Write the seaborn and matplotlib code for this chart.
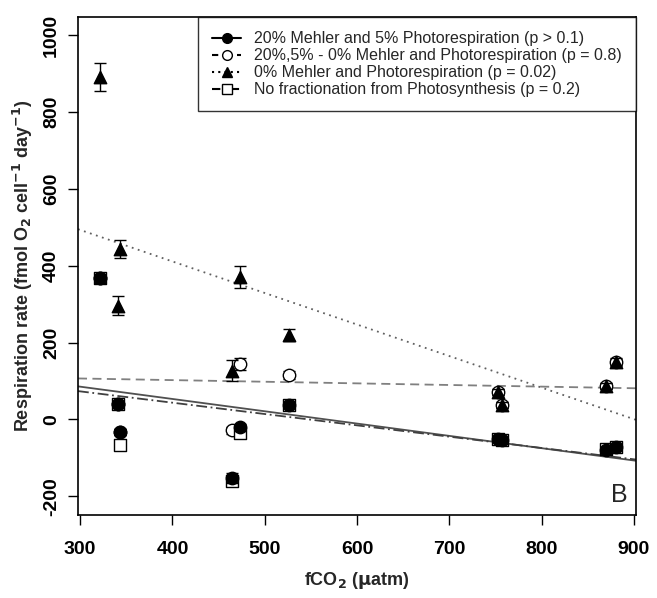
import numpy as np
import pandas as pd
import matplotlib
matplotlib.use("Agg")
import matplotlib.pyplot as plt
import seaborn as sns
from matplotlib.lines import Line2D

# ---- data ----
co2 = [322, 341, 343, 464, 473, 526, 753, 757, 870, 881]
mehler20 = [367, 39, -33, -153, -21, 37, -52, -55, -80, -72]
mehler20_err = [12, 10, 8, 14, 10, 8, 8, 8, 8, 8]
mixed = [367, 39, -33, -29, 144, 116, 72, 37, 87, 149]
mixed_err = [12, 10, 8, 10, 15, 10, 8, 8, 8, 8]
zero = [891, 296, 443, 127, 370, 220, 72, 37, 87, 149]
zero_err = [36, 25, 23, 27, 29, 16, 8, 8, 8, 10]
nofrac = [367, 39, -68, -160, -36, 37, -50, -55, -78, -72]
nofrac_err = [12, 10, 8, 12, 10, 8, 8, 8, 8, 8]

labels = ["20% Mehler and 5% Photorespiration (p > 0.1)",
          "20%,5% - 0% Mehler and Photorespiration (p = 0.8)",
          "0% Mehler and Photorespiration (p = 0.02)",
          "No fractionation from Photosynthesis (p = 0.2)"]
xticks = [300, 400, 500, 600, 700, 800, 900]
yticks = [-200, 0, 200, 400, 600, 800, 1000]

sns.set_style("ticks")
plt.rcParams['font.family'] = ['Liberation Sans', 'DejaVu Sans']

fig = plt.figure(figsize=(6.57, 5.98), dpi=100)
ax = fig.add_axes([0.1187, 0.1395, 0.968 - 0.1187, 0.9716 - 0.1395])
ax.set_xlim(297.6, 902.4)
ax.set_ylim(-248, 1048)

mk_filled = dict(marker='o', facecolor='black', edgecolor='black')
mk_open = dict(marker='o', facecolor='white', edgecolor='black')
mk_tri = dict(marker='^', facecolor='black', edgecolor='black')
mk_sq = dict(marker='s', facecolor='white', edgecolor='black')

# regression lines
lines = [
    (mehler20, '-', '#505050'),
    (mixed, (0, (5, 3)), '#808080'),
    (zero, (0, (1, 2.5)), '#606060'),
    (nofrac, (0, (6, 2, 1, 2)), '#404040'),
]
for vals, ls, lc in lines:
    df = pd.DataFrame({'x': co2, 'y': vals})
    sns.regplot(data=df, x='x', y='y', ax=ax, scatter=False, ci=None, truncate=False,
                line_kws=dict(color=lc, linestyle=ls, linewidth=1.3, zorder=1))

# points, drawn in stacking order of the reference
points = [
    (mixed, mixed_err, mk_open),
    (nofrac, nofrac_err, mk_sq),
    (mehler20, mehler20_err, mk_filled),
    (zero, zero_err, mk_tri),
]
for i, (vals, errs, mk) in enumerate(points):
    ax.errorbar(co2, vals, yerr=errs, fmt='none', ecolor='black', elinewidth=1.0,
                capsize=4, capthick=1.0, zorder=2 + i)
    df = pd.DataFrame({'x': co2, 'y': vals})
    sns.scatterplot(data=df, x='x', y='y', ax=ax, marker=mk['marker'], s=80,
                    facecolor=mk['facecolor'], edgecolor=mk['edgecolor'], linewidth=1.0,
                    zorder=2.5 + i)

ax.set_xlim(297.6, 902.4)
ax.set_ylim(-248, 1048)
ax.set_xticks(xticks)
ax.set_yticks(yticks)
ax.set_xticklabels([str(t) for t in xticks], fontsize=14, fontweight='bold')
ax.set_yticklabels([str(t) for t in yticks], fontsize=14, fontweight='bold', rotation=90, va='center')
ax.tick_params(direction='out', length=7, width=1, colors='black')
ax.tick_params(axis='x', pad=12)
ax.tick_params(axis='y', pad=6)
for s in ax.spines.values():
    s.set_visible(True)
    s.set_color('black')
    s.set_linewidth(1.2)

ax.set_xlabel(r"fCO$_\mathbf{2}$ ($\mathbf{\mu}$atm)", fontsize=13, fontweight='bold', labelpad=9)
ax.set_ylabel(r"Respiration rate (fmol O$_\mathbf{2}$ cell$^\mathbf{-1}$ day$^\mathbf{-1}$)",
              fontsize=13, fontweight='bold', labelpad=6)

handles = [
    Line2D([], [], color='black', linestyle='-', marker='o', markerfacecolor='black', markersize=7),
    Line2D([], [], color='black', linestyle=(0, (3, 3)), marker='o', markerfacecolor='white', markersize=7),
    Line2D([], [], color='black', linestyle=(0, (1, 2)), marker='^', markerfacecolor='black', markersize=7),
    Line2D([], [], color='black', linestyle=(0, (4, 2, 1, 2)), marker='s', markerfacecolor='white', markersize=7),
]
leg = ax.legend(handles, labels, loc='upper right', fontsize=11.5, frameon=True, fancybox=False,
                borderaxespad=0, edgecolor='black', handlelength=1.8, handletextpad=0.8,
                borderpad=0.9, labelspacing=0.12)
leg.get_frame().set_linewidth(1.0)

ax.text(0.985, 0.015, "B", transform=ax.transAxes, fontsize=18, ha='right', va='bottom')

fig.savefig("out.png", dpi=100)
